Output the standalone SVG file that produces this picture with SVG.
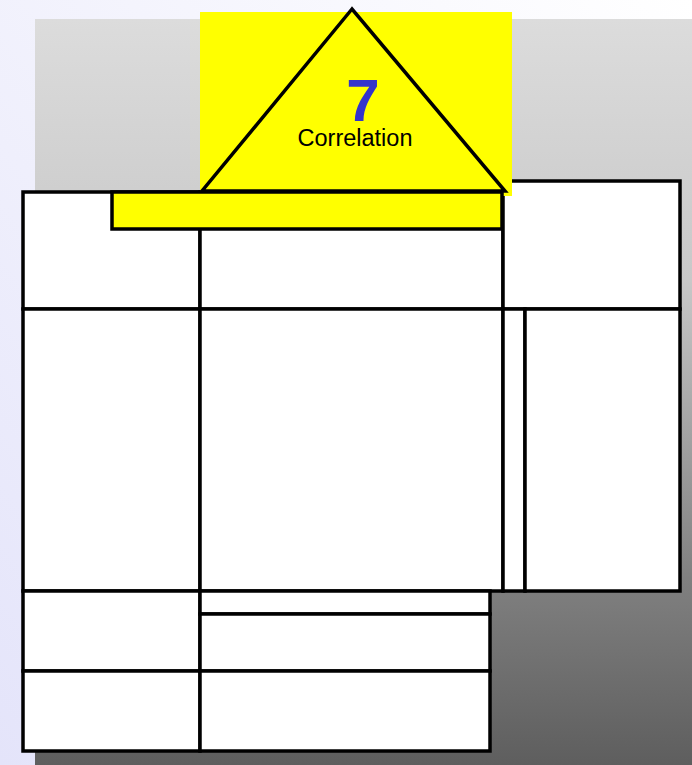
<svg xmlns="http://www.w3.org/2000/svg" width="692" height="765" viewBox="0 0 692 765">
<defs>
<linearGradient id="bgL" x1="1" y1="0" x2="0" y2="1">
<stop offset="0" stop-color="#ffffff"/>
<stop offset="1" stop-color="#e4e4fa"/>
</linearGradient>
<linearGradient id="bgG" x1="0" y1="0" x2="0" y2="1">
<stop offset="0" stop-color="#dcdcdc"/>
<stop offset="0.35" stop-color="#c8c8c8"/>
<stop offset="0.75" stop-color="#808080"/>
<stop offset="1" stop-color="#5e5e5e"/>
</linearGradient>
</defs>
<style>
.cell{fill:#ffffff;stroke:#000000;stroke-width:3.5}
.yel{fill:#ffff00}
</style>
<rect x="0" y="0" width="692" height="765" fill="url(#bgL)"/>
<rect x="35" y="19" width="657" height="746" fill="url(#bgG)"/>
<g id="frame">
<rect class="cell" x="23" y="192" width="177" height="117"/>
<rect class="cell" x="200" y="192" width="303" height="117"/>
<rect class="cell" x="503" y="181" width="177" height="128"/>
<rect class="cell" x="23" y="309" width="177" height="282"/>
<rect class="cell" x="200" y="309" width="303" height="282"/>
<rect class="cell" x="503" y="309" width="22" height="282"/>
<rect class="cell" x="525" y="309" width="155" height="282"/>
<rect class="cell" x="23" y="591" width="177" height="80"/>
<rect class="cell" x="23" y="671" width="177" height="80"/>
<rect class="cell" x="200" y="591" width="290" height="23"/>
<rect class="cell" x="200" y="614" width="290" height="57"/>
<rect class="cell" x="200" y="671" width="290" height="80"/>
</g>
<g id="node-correlation">
<rect class="yel" x="200" y="12" width="312" height="184"/>
<rect class="yel" x="112" y="192" width="390" height="37" stroke="#000" stroke-width="3.5"/>
<polygon points="352,9 202,191 505,191" fill="#ffff00" stroke="#000" stroke-width="3.5" stroke-linejoin="miter"/>
<text x="363" y="121" font-family="Liberation Sans, Arial, sans-serif" font-size="60" font-weight="bold" fill="#3333cc" text-anchor="middle">7</text>
<text x="355" y="146" font-family="Liberation Sans, Arial, sans-serif" font-size="23.5" fill="#000000" text-anchor="middle">Correlation</text>
</g>
</svg>
